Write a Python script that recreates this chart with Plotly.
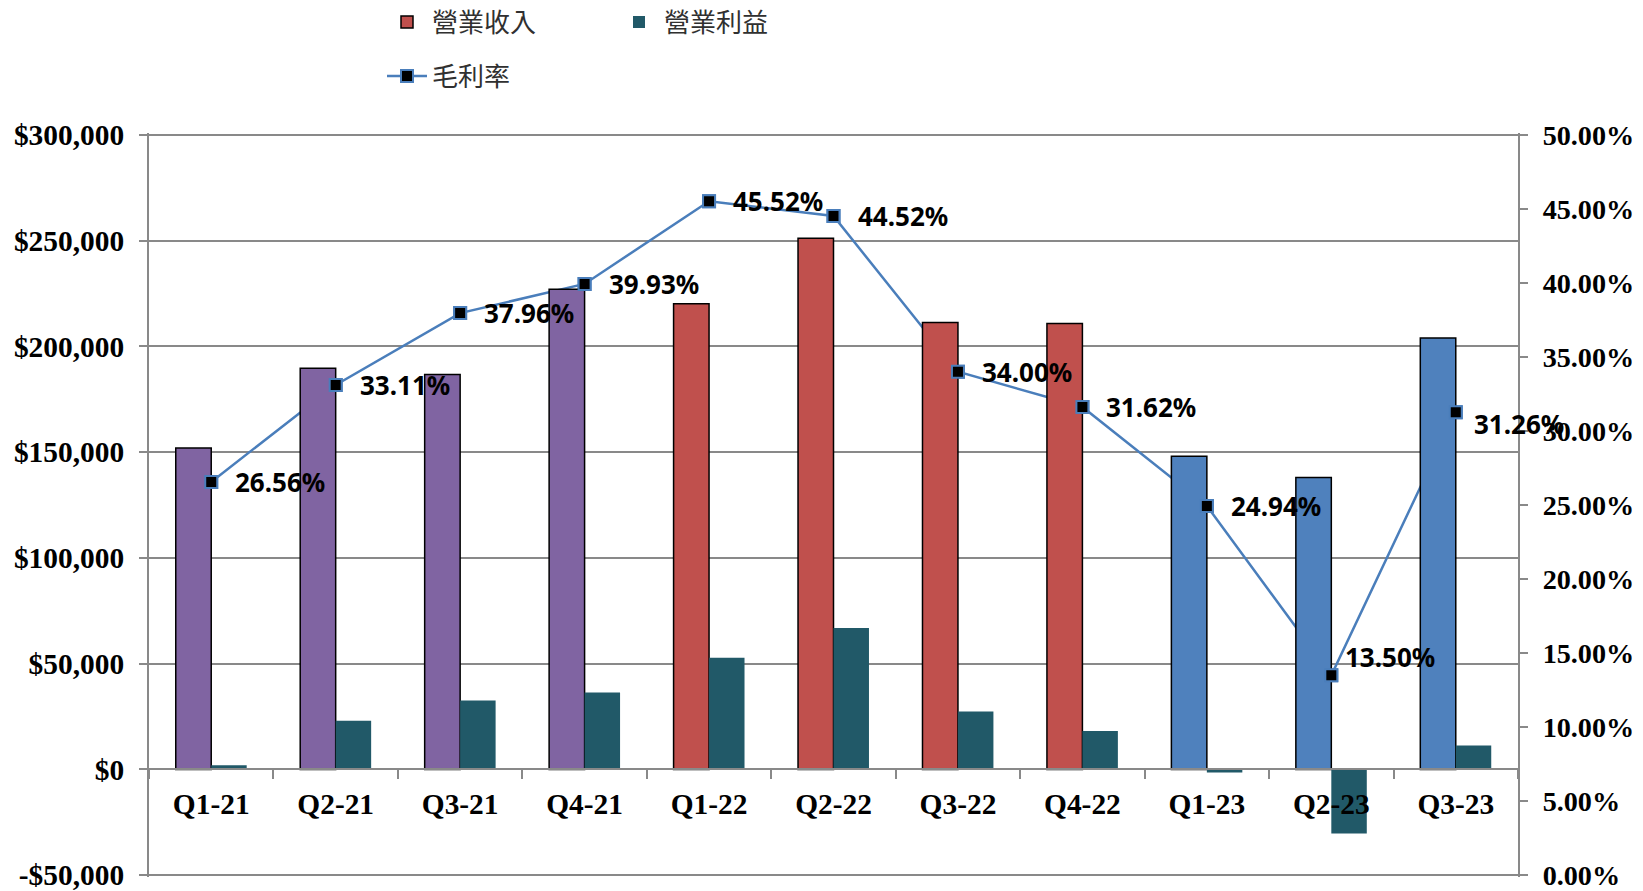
import plotly.graph_objects as go

# ---------------- data ----------------
categories = ["Q1-21", "Q2-21", "Q3-21", "Q4-21", "Q1-22", "Q2-22",
              "Q3-22", "Q4-22", "Q1-23", "Q2-23", "Q3-23"]
revenue = [151900, 189700, 186700, 227000, 220200, 251100,
           211300, 210800, 148100, 138000, 204000]
operating_income = [2000, 23000, 32600, 36400, 52800, 66900,
                    27400, 18100, -1500, -30300, 11300]
gross_margin = [26.56, 33.11, 37.96, 39.93, 45.52, 44.52,
                34.00, 31.62, 24.94, 13.50, 31.26]
years = ["2021"] * 4 + ["2022"] * 4 + ["2023"] * 3

left_tickvals = [-50000, 0, 50000, 100000, 150000, 200000, 250000, 300000]
left_ticktext = ["-$50,000", "$0", "$50,000", "$100,000", "$150,000",
                 "$200,000", "$250,000", "$300,000"]
right_tickvals = [0, 5, 10, 15, 20, 25, 30, 35, 40, 45, 50]
right_ticktext = ["0.00%", "5.00%", "10.00%", "15.00%", "20.00%", "25.00%",
                  "30.00%", "35.00%", "40.00%", "45.00%", "50.00%"]

# ---------------- styles ----------------
YEAR_COLORS = {"2021": "#8064A2", "2022": "#C0504D", "2023": "#4F81BD"}
OP_COLOR = "#215968"
LINE_COLOR = "#4A7EBB"
GRID = "#898989"
SERIF_L = dict(family="Liberation Serif", size=29.4, color="black", weight="bold")
SERIF_R = dict(family="Liberation Serif", size=28.2, color="black", weight="bold")
LABEL_FONT = dict(family="Noto Sans", size=26, color="black", weight="bold")
LEGEND_FONT = dict(family="Noto Sans CJK TC", size=26, color="#303030")
LABEL_SHIFT = {"Q2-23": (12, 18), "Q3-23": (16, -12)}
DEFAULT_SHIFT = (22, 0)

FIG_W, FIG_H = 1643, 891

# axis ranges (tiny padding so the edge gridlines are drawn)
L_MIN, L_MAX = min(left_tickvals), max(left_tickvals)
R_MIN, R_MAX = min(right_tickvals), max(right_tickvals)
PAD = 0.0025
l_span, r_span = L_MAX - L_MIN, R_MAX - R_MIN
left_range = [L_MIN - PAD * l_span, L_MAX + PAD * l_span]
right_range = [R_MIN - PAD * r_span, R_MAX + PAD * r_span]
zero_pos = (0 - left_range[0]) / (left_range[1] - left_range[0])

fig = go.Figure()

# gross-margin line (drawn behind the bars)
fig.add_trace(go.Scatter(
    x=categories, y=gross_margin, name="毛利率", mode="lines+markers",
    line=dict(color=LINE_COLOR, width=2.5),
    marker=dict(symbol="square", size=12, color="black",
                line=dict(color=LINE_COLOR, width=2)),
    xaxis="x", yaxis="y", legend="legend2", cliponaxis=False,
))

# revenue bars, coloured by year
for yr in ["2022", "2021", "2023"]:
    xs = [c for c, y in zip(categories, years) if y == yr]
    vs = [v for v, y in zip(revenue, years) if y == yr]
    fig.add_trace(go.Bar(
        x=xs, y=vs, name="營業收入", offsetgroup="rev",
        marker=dict(color=YEAR_COLORS[yr], line=dict(color="black", width=1.5)),
        showlegend=(yr == "2022"), legend="legend",
        xaxis="x", yaxis="y2",
    ))

fig.add_trace(go.Bar(
    x=categories, y=operating_income, name="營業利益", offsetgroup="op",
    marker=dict(color=OP_COLOR, line=dict(width=0)),
    legend="legend", xaxis="x", yaxis="y2",
))

# markers on top of bars
fig.add_trace(go.Scatter(
    x=categories, y=gross_margin, mode="markers", showlegend=False,
    marker=dict(symbol="square", size=12, color="black",
                line=dict(color=LINE_COLOR, width=2)),
    xaxis="x", yaxis="y3", cliponaxis=False,
))

for c, g in zip(categories, gross_margin):
    dx, dy = LABEL_SHIFT.get(c, DEFAULT_SHIFT)
    fig.add_annotation(
        x=c, y=g, xref="x", yref="y", text=f"{g:.2f}%", showarrow=False,
        xanchor="left", yanchor="middle", xshift=dx, yshift=dy,
        font=LABEL_FONT,
    )

fig.update_layout(
    width=FIG_W, height=FIG_H,
    margin=dict(l=149, r=125, t=133, b=14),
    paper_bgcolor="white", plot_bgcolor="white",
    barmode="group", bargap=0.43, bargroupgap=0,
    xaxis=dict(
        type="category", categoryorder="array", categoryarray=categories,
        range=[-0.5, len(categories) - 0.5], automargin=False,
        anchor="free", position=zero_pos,
        showline=True, linecolor=GRID, linewidth=2,
        ticks="outside", tickson="boundaries", ticklen=9, tickwidth=2,
        tickcolor=GRID, tickfont=SERIF_L, showgrid=False, zeroline=False,
        ticklabelstandoff=8,
    ),
    yaxis=dict(
        side="right", range=right_range, tickvals=right_tickvals,
        ticktext=right_ticktext, showgrid=False, zeroline=False,
        showline=True, linecolor=GRID, linewidth=2, automargin=False,
        ticks="outside", ticklen=8, tickwidth=2, tickcolor=GRID,
        tickfont=SERIF_R, ticklabelstandoff=9, ticklabeloverflow="allow",
    ),
    yaxis2=dict(
        side="left", overlaying="y", range=left_range,
        tickvals=left_tickvals, ticktext=left_ticktext,
        showgrid=True, gridcolor=GRID, gridwidth=2, zeroline=False,
        showline=True, linecolor=GRID, linewidth=2, automargin=False,
        ticks="outside", ticklen=8, tickwidth=2, tickcolor=GRID,
        tickfont=SERIF_L, ticklabelstandoff=9, ticklabeloverflow="allow",
    ),
    yaxis3=dict(overlaying="y", range=right_range, visible=False),
    legend=dict(
        orientation="h", xref="container", yref="container",
        x=382 / FIG_W, y=1 - 22 / FIG_H, xanchor="left", yanchor="middle",
        font=LEGEND_FONT, entrywidth=177, bgcolor="rgba(0,0,0,0)",
        itemwidth=40,
    ),
    legend2=dict(
        orientation="h", xref="container", yref="container",
        x=382 / FIG_W, y=1 - 76 / FIG_H, xanchor="left", yanchor="middle",
        font=LEGEND_FONT, bgcolor="rgba(0,0,0,0)", itemwidth=40,
    ),
)

# remove the browser's default 8px body margin so the figure fills the window
fig.write_html(
    "out.html",
    config={"displayModeBar": False},
    post_script="document.body.style.margin='0px';",
)
